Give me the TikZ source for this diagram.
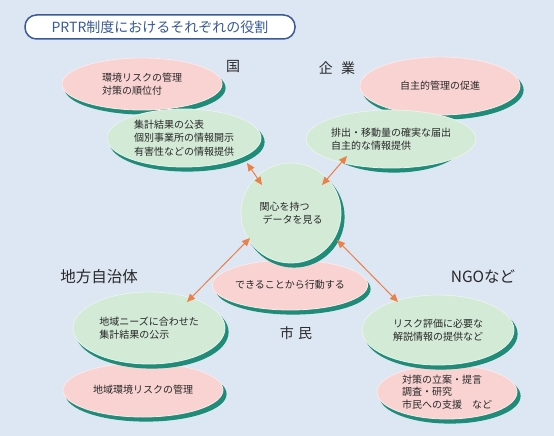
\documentclass[tikz,border=0pt]{standalone}
\usepackage{fontspec}
\newfontfamily\jp{Noto Sans CJK JP}
\usetikzlibrary{shapes.geometric,arrows.meta}
\definecolor{bg}{RGB}{221,230,243}
\definecolor{pinkf}{RGB}{249,211,210}
\definecolor{greenf}{RGB}{210,234,214}
\definecolor{rimc}{RGB}{30,140,120}
\definecolor{arr}{RGB}{235,128,72}
\definecolor{ttl}{RGB}{58,90,150}
\definecolor{txt}{RGB}{40,40,40}
\tikzset{
  bub/.style={ellipse, inner sep=0pt, draw=white!50!#1, line width=0.8pt, fill=#1,
     font=\jp\fontsize{10}{13.5}\selectfont, text=txt, align=left},
  pinkbub/.style={bub=pinkf},
  greenbub/.style={bub=greenf},
  head/.style={font=\jp\fontsize{14}{16}\selectfont, text=txt},
  link/.style={draw=arr, line width=1pt, {Triangle[length=8pt,width=7pt]}-{Triangle[length=8pt,width=7pt]}},
}
% #1 name, #2 style, #3 half width, #4 half height, #5 x, #6 y, #7 text
\newcommand\mkbub[7]{%
  \filldraw[rimc, line width=1.2pt] (#5+3,#6-4) ellipse [x radius=#3, y radius=#4];
  \node (#1) [#2, minimum width=2*#3, minimum height=2*#4] at (#5,#6) {#7};
}
\begin{document}
\begin{tikzpicture}[x=1pt,y=1pt]
\fill[bg] (0,0) rectangle (554,-436);
\useasboundingbox (0,0) rectangle (554,-436);
% title
\node (title) [draw=ttl, line width=1.5pt, fill=white, rounded corners=11.5pt,
  minimum width=270pt, minimum height=24pt, inner sep=0pt,
  font=\jp\fontsize{14}{16}\selectfont, text=ttl] at (160,-27) {PRTR制度におけるそれぞれの役割};
% headings
\node (kuni) [head] at (233,-66) {国};
\node (kigyo) [head] at (337,-68) {企\hspace{0.6em}業};
\node (shimin) [head] at (296,-333) {市\hspace{0.3em}民};
\node (jichi) [head, font=\jp\fontsize{15.5}{17}\selectfont] at (99,-277) {地方自治体};
\node (ngo) [head, font=\jp\fontsize{15.5}{17}\selectfont] at (483,-277) {NGOなど};
% upper left
\mkbub{p1}{pinkbub}{80}{26}{142}{-84}{環境リスクの管理\\対策の順位付}
\mkbub{g1}{greenbub}{77}{29}{184}{-138}{集計結果の公表\\個別事業所の情報開示\\有害性などの情報提供}
% upper right
\mkbub{p2}{pinkbub}{80}{29}{440}{-86}{自主的管理の促進}
\mkbub{g2}{greenbub}{69}{29}{391}{-139}{排出・移動量の確実な届出\\自主的な情報提供}
% center
\mkbub{p3}{pinkbub}{77}{25}{290}{-285}{できることから行動する}
\mkbub{ctr}{greenbub}{50}{50}{291}{-213}{関心を持つ\\\hspace{0.3em}データを見る}
% lower left
\mkbub{p4}{pinkbub}{80}{27}{143}{-390}{地域環境リスクの管理}
\mkbub{g4}{greenbub}{76}{36}{149}{-328}{地域ニーズに合わせた\\集計結果の公示}
% lower right
\mkbub{p5}{pinkbub,font=\jp\fontsize{10}{12.5}\selectfont}{70}{27}{447}{-392}{対策の立案・提言\\調査・研究\\市民への支援\quad など}
\mkbub{g5}{greenbub,font=\jp\fontsize{10}{12.5}\selectfont}{76}{35}{438}{-330}{リスク評価に必要な\\解説情報の提供など}
% arrows
\coordinate (a1s) at (247,-163); \coordinate (a1e) at (262,-185);
\coordinate (a2s) at (347,-156); \coordinate (a2e) at (322,-185);
\coordinate (a3s) at (250,-238); \coordinate (a3e) at (187,-302);
\coordinate (a4s) at (337,-240); \coordinate (a4e) at (398,-302);
\draw[link] (a1s) -- (a1e);
\draw[link] (a2s) -- (a2e);
\draw[link] (a3s) -- (a3e);
\draw[link] (a4s) -- (a4e);
\end{tikzpicture}
\end{document}
